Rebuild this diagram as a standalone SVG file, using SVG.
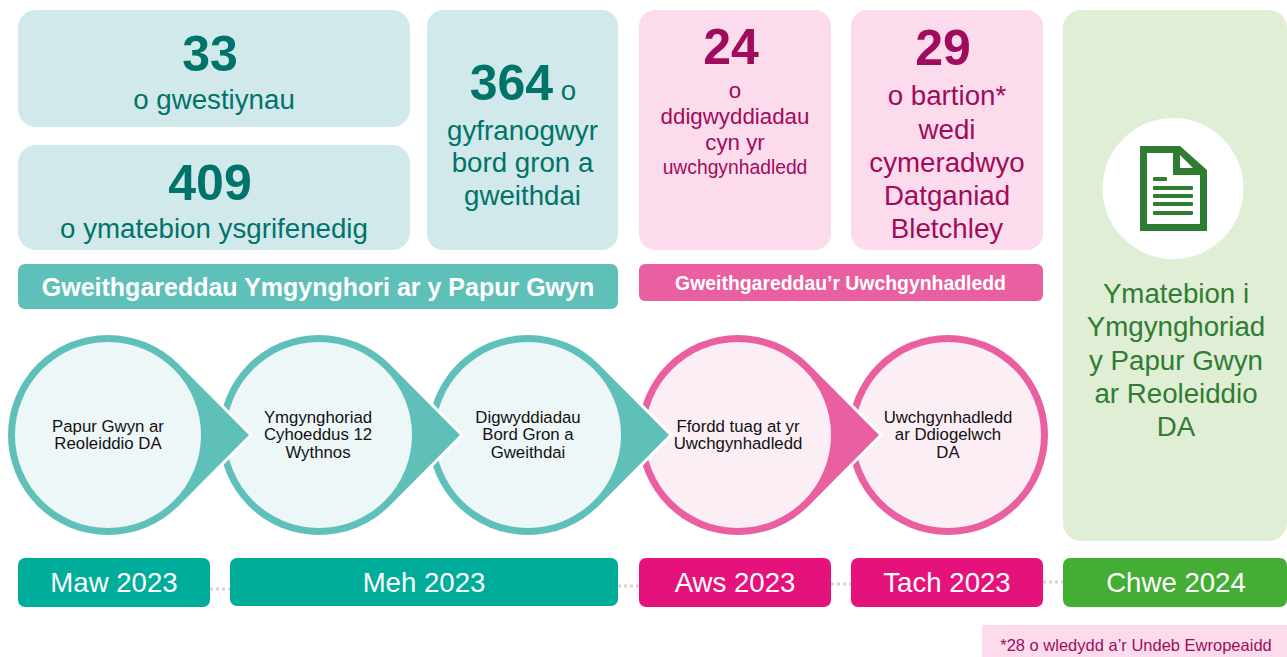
<svg xmlns="http://www.w3.org/2000/svg" width="1287" height="657" viewBox="0 0 1287 657">
<style>
text{font-family:"Liberation Sans",Arial,sans-serif;text-anchor:middle}
.tl{fill:#00736a}.mg{fill:#a00b5c}.gr{fill:#2e7d32}
.big{font-weight:700;font-size:50px}
.m{font-size:27.700px}
.s{font-size:22.300px}
.c{font-size:16.800px;fill:#111}
.d{font-size:27.600px;fill:#fff}
.b{font-weight:700;fill:#fff}
.tbox{fill:#d2e9eb}.pbox{fill:#fcdcec}
.ct{fill:#5fc0ba;stroke:#fff;stroke-width:6;paint-order:stroke;stroke-linejoin:miter}
.cp{fill:#e95fa0;stroke:#fff;stroke-width:6;paint-order:stroke;stroke-linejoin:miter}
.it{fill:#edf7f8}.ip{fill:#fbeef5}
.dot{stroke:#d4d4d4;stroke-width:3;stroke-dasharray:3 3;fill:none}
</style>
<g id="connectors">
<path class="dot" d="M210 589H230"/>
<path class="dot" d="M618 586H639"/>
<path class="dot" d="M831 584H851"/>
<path class="dot" d="M1043 582H1063"/>
</g>
<g id="stat-gwestiynau"><rect class="tbox" x="18" y="10" width="392" height="117" rx="18"/><text class="tl big" x="210" y="71">33</text><text class="tl m" x="214" y="109">o gwestiynau</text></g>
<g id="stat-ymatebion"><rect class="tbox" x="18" y="145" width="392" height="105" rx="18"/><text class="tl big" x="210" y="200">409</text><text class="tl m" x="214" y="238">o ymatebion ysgrifenedig</text></g>
<g id="stat-gyfranogwyr"><rect class="tbox" x="427" y="10" width="191" height="240" rx="16"/><text class="tl" x="523" y="100"><tspan class="big">364</tspan><tspan class="m"> o</tspan></text><text class="tl m" x="522.500" y="140">gyfranogwyr</text><text class="tl m" x="522.500" y="172">bord gron a</text><text class="tl m" x="522.500" y="205">gweithdai</text></g>
<g id="stat-digwyddiadau"><rect class="pbox" x="639" y="10" width="192" height="240" rx="16"/><text class="mg big" x="731" y="64">24</text><text class="mg s" x="735" y="98">o</text><text class="mg s" x="735" y="124">ddigwyddiadau</text><text class="mg s" x="735" y="150">cyn yr</text><text class="mg" font-size="19.300" x="735" y="174">uwchgynhadledd</text></g>
<g id="stat-bartion"><rect class="pbox" x="851" y="10" width="192" height="240" rx="16"/><text class="mg big" x="943" y="65">29</text><text class="mg m" x="947" y="105">o bartion*</text><text class="mg m" x="947" y="139">wedi</text><text class="mg m" x="947" y="172">cymeradwyo</text><text class="mg m" x="947" y="205">Datganiad</text><text class="mg m" x="947" y="238">Bletchley</text></g>
<g id="banner-ymgynghori"><rect x="18" y="264" width="600" height="45" rx="7" fill="#5fc0ba"/><text class="b" x="318" y="296" font-size="25">Gweithgareddau Ymgynghori ar y Papur Gwyn</text></g>
<g id="banner-uwchgynhadledd"><rect x="639" y="264" width="404" height="37" rx="6" fill="#e95fa0"/><text class="b" x="840.500" y="290" font-size="19.400">Gweithgareddau’r Uwchgynhadledd</text></g>
<g id="ymatebion"><rect x="1063" y="10" width="224" height="531" rx="18" fill="#e0eed5"/><circle cx="1173" cy="188.500" r="70.500" fill="#fff"/>
<path fill="#2e7d32" fill-rule="evenodd" d="M1140 146H1180L1207 170V231H1140ZM1147 153V224H1200V175H1173V153Z"/><path fill="#fff" d="M1180 155V168H1193Z"/>
<g fill="#2e7d32"><rect x="1153" y="177" width="14" height="4" rx="1"/><rect x="1153" y="186" width="40" height="4" rx="1"/><rect x="1153" y="194" width="40" height="4" rx="1"/><rect x="1153" y="202" width="40" height="4" rx="1"/><rect x="1153" y="211" width="40" height="4" rx="1"/></g>
<text class="gr m" x="1176" y="303">Ymatebion i</text><text class="gr m" x="1176" y="336">Ymgynghoriad</text><text class="gr m" x="1176" y="370">y Papur Gwyn</text><text class="gr m" x="1176" y="403">ar Reoleiddio</text><text class="gr m" x="1176" y="436">DA</text></g>
<g id="cam-5"><circle class="cp" cx="948" cy="435" r="100"/><circle class="ip" cx="948" cy="435" r="93"/><text class="c" x="948" y="423">Uwchgynhadledd</text><text class="c" x="948" y="440">ar Ddiogelwch</text><text class="c" x="948" y="458">DA</text></g>
<g id="cam-4"><path class="cp" d="M879 435L808.700 505.700A100 100 0 1 1 808.700 364.300Z"/><circle class="ip" cx="738" cy="435" r="93"/><text class="c" x="738" y="432">Ffordd tuag at yr</text><text class="c" x="738" y="449">Uwchgynhadledd</text></g>
<g id="cam-3"><path class="ct" d="M669 435L598.700 505.700A100 100 0 1 1 598.700 364.300Z"/><circle class="it" cx="528" cy="435" r="93"/><text class="c" x="528" y="423">Digwyddiadau</text><text class="c" x="528" y="440">Bord Gron a</text><text class="c" x="528" y="458">Gweithdai</text></g>
<g id="cam-2"><path class="ct" d="M460 435L389.700 505.700A100 100 0 1 1 389.700 364.300Z"/><circle class="it" cx="319" cy="435" r="93"/><text class="c" x="318" y="423">Ymgynghoriad</text><text class="c" x="318" y="440">Cyhoeddus 12</text><text class="c" x="318" y="458">Wythnos</text></g>
<g id="cam-1"><path class="ct" d="M249 435L178.700 505.700A100 100 0 1 1 178.700 364.300Z"/><circle class="it" cx="108" cy="435" r="93"/><text class="c" x="108" y="432">Papur Gwyn ar</text><text class="c" x="108" y="449">Reoleiddio DA</text></g>
<g id="dyddiad-maw"><rect x="18" y="558" width="192" height="49" rx="7" fill="#00ad9a"/><text class="d" x="114" y="592">Maw 2023</text></g>
<g id="dyddiad-meh"><rect x="230" y="558" width="388" height="48" rx="7" fill="#00ad9a"/><text class="d" x="424" y="592">Meh 2023</text></g>
<g id="dyddiad-aws"><rect x="639" y="558" width="192" height="49" rx="7" fill="#e5127c"/><text class="d" x="735" y="592">Aws 2023</text></g>
<g id="dyddiad-tach"><rect x="851" y="558" width="192" height="49" rx="7" fill="#e5127c"/><text class="d" x="947" y="592">Tach 2023</text></g>
<g id="dyddiad-chwe"><rect x="1063" y="558" width="224" height="49" rx="7" fill="#44ad34"/><text class="d" x="1176" y="592">Chwe 2024</text></g>
<g id="troednodyn"><rect x="982" y="625" width="305" height="32" fill="#fcdcec"/><text class="mg" x="1136" y="651" font-size="16.500">*28 o wledydd a’r Undeb Ewropeaidd</text></g>
</svg>
